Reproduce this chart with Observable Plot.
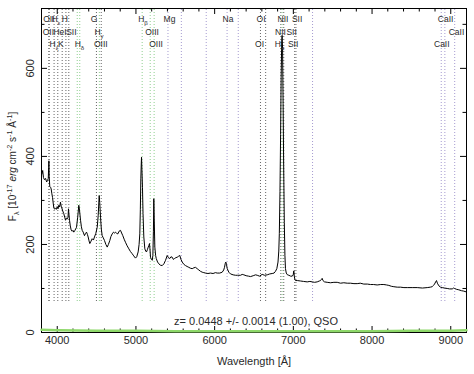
<!DOCTYPE html>
<html><head><meta charset="utf-8">
<script src="https://cdn.jsdelivr.net/npm/d3@7"></script>
<script src="https://cdn.jsdelivr.net/npm/@observablehq/plot@0.6"></script>
<style>
body{margin:0;background:#fff;}
#chart svg{display:block;font-family:"Liberation Sans",Arial,sans-serif;}
</style>
</head><body><div id="chart"></div>
<script>
const wavelength = [3805,3815,3825,3838,3852,3865,3876,3886,3891,3894,3898,3905,3915,3923,3932,3940,3950,3957,3968,3978,3990,3999,4010,4020,4030,4041,4050,4058,4070,4083,4095,4105,4115,4127,4137,4143,4148,4156,4166,4177,4190,4200,4210,4225,4245,4260,4274,4283,4296,4307,4317,4330,4346,4360,4372,4383,4393,4404,4414,4425,4444,4460,4473,4490,4508,4520,4533,4540,4550,4560,4571,4585,4600,4618,4635,4650,4668,4682,4698,4715,4728,4740,4755,4770,4785,4804,4818,4833,4850,4867,4888,4910,4930,4952,4972,4994,5010,5028,5040,5049,5056,5062,5068,5071,5076,5083,5090,5100,5113,5124,5134,5145,5156,5165,5172,5178,5185,5197,5207,5215,5222,5227,5232,5240,5250,5258,5275,5291,5310,5334,5355,5376,5397,5413,5430,5445,5461,5475,5490,5507,5524,5540,5557,5572,5588,5608,5630,5650,5672,5693,5715,5736,5757,5778,5799,5820,5842,5862,5884,5915,5947,5980,6010,6032,6065,6096,6115,6125,6135,6142,6150,6160,6180,6202,6235,6265,6290,6329,6350,6371,6400,6430,6456,6490,6520,6541,6570,6604,6635,6668,6700,6731,6755,6773,6790,6805,6815,6822,6830,6838,6845,6852,6857,6863,6870,6877,6885,6893,6900,6910,6925,6943,6965,6986,6998,7006,7012,7020,7027,7050,7091,7130,7176,7210,7239,7270,7303,7330,7345,7358,7366,7376,7396,7430,7472,7515,7557,7600,7641,7685,7726,7770,7811,7850,7895,7940,7980,8020,8065,8110,8150,8185,8213,8245,8277,8320,8362,8405,8447,8510,8574,8640,8701,8740,8764,8780,8794,8808,8819,8830,8849,8870,8892,8920,8955,8985,9019,9035,9048,9075,9102,9135,9165,9200];
const flux = [360,368,352,347,350,342,345,350,375,390,355,332,330,326,315,307,292,283,280,282,280,286,281,289,285,296,287,283,276,270,262,255,260,258,262,281,270,255,242,233,230,232,228,232,239,262,289,278,255,240,232,228,220,225,228,223,217,208,202,206,213,210,217,225,239,265,311,295,262,235,220,215,209,200,194,200,209,218,224,228,226,228,225,224,230,232,226,220,212,205,197,190,184,179,174,169,172,183,200,224,280,349,385,398,370,330,270,217,190,185,183,188,194,198,202,190,171,166,164,175,230,304,260,194,175,168,160,156,153,152,156,164,175,170,168,172,171,166,168,170,171,173,175,166,160,155,152,150,148,146,145,147,148,145,142,139,137,136,135,134,135,134,136,135,135,137,142,148,157,160,155,145,137,133,131,130,130,130,132,131,129,128,127,129,131,130,128,132,130,131,133,134,135,139,145,160,185,225,320,450,580,660,675,645,520,380,250,175,145,135,131,130,128,128,131,140,128,120,118,118,117,116,115,116,115,114,115,117,118,121,123,118,115,114,113,114,114,112,113,112,112,111,111,112,110,110,109,109,108,109,109,108,107,105,104,103,103,102,102,102,102,101,102,103,104,107,110,115,118,112,106,103,102,101,100,99,99,101,100,98,97,95,94,92];

// Error spectrum (green, near zero)
const errWave = [3800,4000,4500,5000,5500,6000,6500,7000,7500,8000,8500,9000,9200];
const errFlux = [6,5,4,4,3,3,3,3,3,3,4,4,5];

// Marked line positions (observed wavelength) and their kind
const lineWave = [3894,3897,3960,4007,4063,4110,4147,4254,4286,4498,4535,4559,5079,5181,5231,5407,5577,5893,6158,6300,6582,6648,6841,6857,6878,7017,7033,7244,8879,8925,9050];
const lineKind = ["k","k","k","k","k","k","k","g","g","k","g","k","g","g","g","p","p","p","p","p","k","k","k","g","k","k","k","p","p","p","p"];

// Line labels, three rows
const row1Text = ["OII","H_ε","H","G","H_β","Mg","Na","OI","NII","SII","CaII"];
const row1Wave = [3894,3985,4095,4467,5090,5426,6170,6590,6869,7048,8934];
const row2Text = ["OII","HeI","SII","H_γ","OIII","NII","SII","CaII"];
const row2Wave = [3888,4035,4180,4531,5204,6837,6978,9073];
const row3Text = ["H_ζ","K","H_δ","OIII","OIII","OI","H_α","SII","CaII"];
const row3Wave = [3959,4045,4283,4553,5255,6570,6824,6997,8886];

// Axis ticks and labels
const xTickLabels = [4000,5000,6000,7000,8000,9000];
const xMinorTicks = [3800,4200,4400,4600,4800,5200,5400,5600,5800,6200,6400,6600,6800,7200,7400,7600,7800,8200,8400,8600,8800,9200];
const yTickLabels = [0,200,400,600];
const yMinorTicks = [100,300,500,700];

const title = "z= 0.0448 +/- 0.0014 (1.00), QSO";
const xTitle = "Wavelength [Å]";
const yTitle = "F_λ [10^{-17} erg cm^{-2} s^{-1} Å^{-1}]";

const spectrum = wavelength.map((w, i) => ({w, f: flux[i]}));
const err = errWave.map((w, i) => ({w, f: errFlux[i]}));
const lines = lineWave.map((w, i) => ({w, k: lineKind[i]}));
const kindColor = {k: "#666", g: "#8fcf8f", p: "#a59bd0"};

const W = 474, H = 374, mL = 41, mR = 8, mT = 8, mB = 42;
const iw = W - mL - mR, ih = H - mT - mB;
const txt = "#2a2a2a";

const chart = Plot.plot({
  width: W, height: H,
  marginLeft: mL, marginRight: mR, marginTop: mT, marginBottom: mB,
  x: {domain: [3800, 9200], axis: null},
  y: {domain: [0, 736], axis: null},
  style: {fontFamily: "Liberation Sans, Arial, sans-serif", background: "#fff"},
  marks: [
    Plot.ruleX(lines, {x: "w", stroke: d => kindColor[d.k], strokeDasharray: "1,2", strokeWidth: 1, insetTop: 1, insetBottom: 31}),
    Plot.line(spectrum, {x: "w", y: "f", stroke: "#000", strokeWidth: 1}),
    Plot.frame({stroke: "#000", strokeWidth: 1}),
    // ticks (inside)
    Plot.ruleX(xTickLabels, {x: d => d, insetTop: ih - 6, stroke: "#000"}),
    Plot.ruleX(xMinorTicks, {x: d => d, insetTop: ih - 3.5, stroke: "#000"}),
    Plot.ruleX(xTickLabels, {x: d => d, insetBottom: ih - 6, stroke: "#000"}),
    Plot.ruleX(xMinorTicks, {x: d => d, insetBottom: ih - 3.5, stroke: "#000"}),
    Plot.ruleY(yTickLabels, {y: d => d, insetRight: iw - 6, stroke: "#000"}),
    Plot.ruleY(yMinorTicks, {y: d => d, insetRight: iw - 3.5, stroke: "#000"}),
    Plot.ruleY(yTickLabels, {y: d => d, insetLeft: iw - 6, stroke: "#000"}),
    Plot.ruleY(yMinorTicks, {y: d => d, insetLeft: iw - 3.5, stroke: "#000"}),
    Plot.line(err, {x: "w", y: "f", stroke: "#8ed86a", strokeWidth: 2.5}),
    // tick labels
    Plot.text(xTickLabels, {x: d => d, frameAnchor: "bottom", dy: 11, text: d => String(d), fontSize: 11, fill: txt}),
    Plot.text(yTickLabels, {y: d => d, frameAnchor: "left", textAnchor: "middle", dx: -11, rotate: -90, text: d => String(d), fontSize: 11, fill: txt}),
    Plot.text([xTitle], {frameAnchor: "bottom", dy: 32, text: d => d, fontSize: 11, fill: txt}),
    Plot.text([yTitle], {frameAnchor: "left", textAnchor: "middle", dx: -29, dy: -4, rotate: -90, text: d => d, fontSize: 10, fill: txt}),
    Plot.text([title], {frameAnchor: "bottom", dx: 2, dy: -8, text: d => d, fontSize: 11, fill: txt}),
    // line labels
    Plot.text(row1Text, {x: (d, i) => row1Wave[i], frameAnchor: "top", dy: 7, text: d => d, fontSize: 8.5, fill: txt}),
    Plot.text(row2Text, {x: (d, i) => row2Wave[i], frameAnchor: "top", dy: 20, text: d => d, fontSize: 8.5, fill: txt}),
    Plot.text(row3Text, {x: (d, i) => row3Wave[i], frameAnchor: "top", dy: 32, text: d => d, fontSize: 8.5, fill: txt})
  ]
});

// Turn _x / ^{..} markers into sub/superscript tspans (baseline-shift keeps one text chunk)
const NS = "http://www.w3.org/2000/svg";
chart.querySelectorAll("text").forEach(t => {
  const s = t.textContent;
  if (!/[_^]/.test(s)) return;
  t.textContent = "";
  const re = /([_^])\{([^}]*)\}|([_^])(.)|([^_^]+)/g;
  let m;
  const add = (str, shift, italic) => {
    const ts = document.createElementNS(NS, "tspan");
    ts.textContent = str;
    if (shift) { ts.setAttribute("baseline-shift", shift); ts.setAttribute("font-size", "0.72em"); }
    if (italic) ts.setAttribute("font-style", "italic");
    t.appendChild(ts);
  };
  while ((m = re.exec(s))) {
    if (m[5] !== undefined) {
      const parts = m[5].split("erg");
      parts.forEach((p, j) => { if (j > 0) add("erg", null, true); if (p) add(p, null, false); });
    } else {
      const op = m[1] || m[3];
      const str = m[2] !== undefined ? m[2] : m[4];
      add(str, op === "_" ? "-3" : "4", false);
    }
  }
});

document.getElementById("chart").appendChild(chart);
</script>
</body></html>
